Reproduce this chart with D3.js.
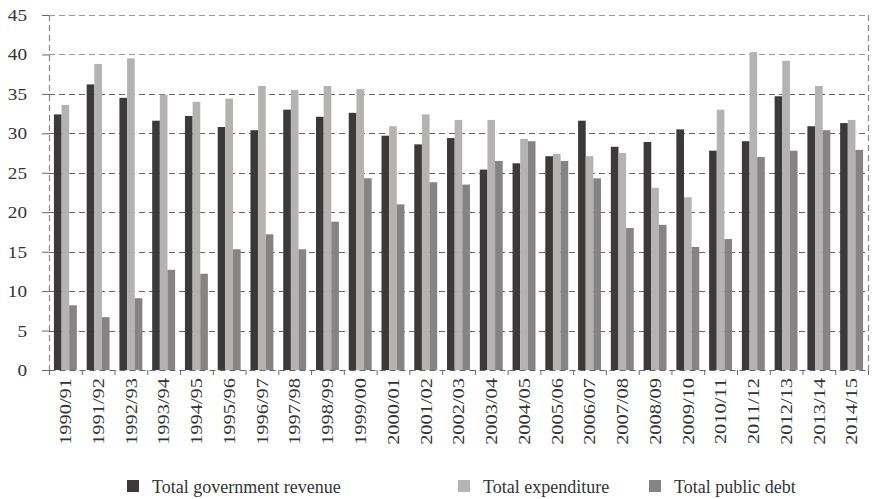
<!DOCTYPE html>
<html>
<head>
<meta charset="utf-8">
<script src="https://cdn.jsdelivr.net/npm/d3@7"></script>
<style>
  body { margin: 0; background: #fff; }
  svg { display: block; }
  text { font-family: "Liberation Serif", "DejaVu Serif", serif; fill: #333; }
</style>
</head>
<body>
<svg id="chart" width="873" height="499"></svg>
<script>
const categories = ["1990/91","1991/92","1992/93","1993/94","1994/95","1995/96","1996/97","1997/98","1998/99","1999/00","2000/01","2001/02","2002/03","2003/04","2004/05","2005/06","2006/07","2007/08","2008/09","2009/10","2010/11","2011/12","2012/13","2013/14","2014/15"];
const revenue     = [32.4,36.2,34.5,31.6,32.2,30.8,30.4,33.0,32.1,32.6,29.7,28.6,29.4,25.4,26.2,27.1,31.6,28.3,28.9,30.5,27.8,29.0,34.7,30.9,31.3];
const expenditure = [33.6,38.8,39.5,34.9,34.0,34.4,36.0,35.5,36.0,35.6,30.9,32.4,31.7,31.7,29.3,27.4,27.1,27.5,23.1,21.9,33.0,40.3,39.2,36.0,31.7];
const debt        = [8.2,6.7,9.1,12.7,12.2,15.3,17.2,15.3,18.8,24.3,21.0,23.8,23.5,26.5,29.0,26.5,24.3,18.0,18.4,15.6,16.6,27.0,27.8,30.4,27.9];
const seriesNames = ["Total government revenue","Total expenditure","Total public debt"];
const seriesColors = ["#3b393a","#b4b3b2","#858384"];
const yTicks = [0,5,10,15,20,25,30,35,40,45];

const svg = d3.select("#chart");
const pLeft = 49, pRight = 868, pTop = 15, pBottom = 370;

const x = d3.scaleBand().domain(categories).range([pLeft, pRight]).paddingInner(0.3).paddingOuter(0.15);
const xOuter = d3.scaleBand().domain(categories).range([pLeft, pRight]);
const xs = d3.scaleBand().domain(seriesNames).range([0, x.bandwidth()]);
const y = d3.scaleLinear().domain([0, 45]).range([pBottom, pTop]);

// gridlines
svg.append("g").selectAll("line").data(yTicks.filter(d => d > 0)).join("line")
  .attr("x1", pLeft).attr("x2", pRight)
  .attr("y1", d => Math.round(y(d)) + 0.5).attr("y2", d => Math.round(y(d)) + 0.5)
  .attr("stroke", d => d >= 40 ? "#9a9a9a" : "#666")
  .attr("stroke-width", 1.2)
  .attr("stroke-dasharray", "6,4");

// plot border left/right
[pLeft, pRight].forEach(px => {
  svg.append("line").attr("x1", px + 0.5).attr("x2", px + 0.5).attr("y1", pTop).attr("y2", pBottom)
    .attr("stroke", "#888").attr("stroke-width", 1.2).attr("stroke-dasharray", "6,4");
});

// bars
const data = categories.map((c, i) => ({c, vals: [revenue[i], expenditure[i], debt[i]]}));
const groups = svg.append("g").selectAll("g").data(data).join("g")
  .attr("transform", d => `translate(${x(d.c)},0)`);
groups.selectAll("rect").data(d => d.vals.map((v, j) => ({v, s: seriesNames[j], j}))).join("rect")
  .attr("x", d => xs(d.s))
  .attr("width", xs.bandwidth())
  .attr("y", d => y(d.v))
  .attr("height", d => y(0) - y(d.v))
  .attr("fill", d => seriesColors[d.j]);

// y axis
const yAxis = d3.axisLeft(y).tickValues(yTicks).tickSize(7);
const gy = svg.append("g").attr("transform", `translate(${pLeft},0)`).call(yAxis);
gy.select(".domain").remove();
gy.selectAll(".tick line").attr("stroke", "#666");
gy.selectAll(".tick text")
  .style("font-family", "'Liberation Serif', 'DejaVu Serif', serif").style("font-size", "16px").attr("fill", "#333")
  .attr("x", 0).attr("dy", "0.34em")
  .attr("transform", "translate(-22,0) scale(1.2,1)");

// x axis
const xAxis = d3.axisBottom(x).tickSize(0);
const gx = svg.append("g").attr("transform", `translate(0,${pBottom})`).call(xAxis);
gx.select(".domain").attr("stroke", "#666").attr("stroke-dasharray", "6,4").attr("stroke-width", 1.2);
gx.selectAll(".tick text")
  .style("font-family", "'Liberation Serif', 'DejaVu Serif', serif").style("font-size", "17px").attr("fill", "#333")
  .attr("x", 0).attr("y", 0).attr("dy", "0.34em")
  .attr("text-anchor", "end")
  .attr("transform", "translate(0,8) rotate(-90) scale(1.2,1)");
// boundary ticks
svg.append("g").selectAll("line").data(categories.concat(["__end"])).join("line")
  .attr("x1", (d, i) => pLeft + i * xOuter.step() + 0.5)
  .attr("x2", (d, i) => pLeft + i * xOuter.step() + 0.5)
  .attr("y1", pBottom).attr("y2", pBottom + 5)
  .attr("stroke", "#666");

// legend
const legendX = [127, 458, 649];
const lg = svg.append("g").selectAll("g").data(seriesNames).join("g")
  .attr("transform", (d, i) => `translate(${legendX[i]},480)`);
lg.append("rect").attr("width", 12).attr("height", 12).attr("fill", (d, i) => seriesColors[i]);
lg.append("text").attr("x", 25).attr("y", 12.5).style("font-size", "18px").text(d => d);
</script>
</body>
</html>
